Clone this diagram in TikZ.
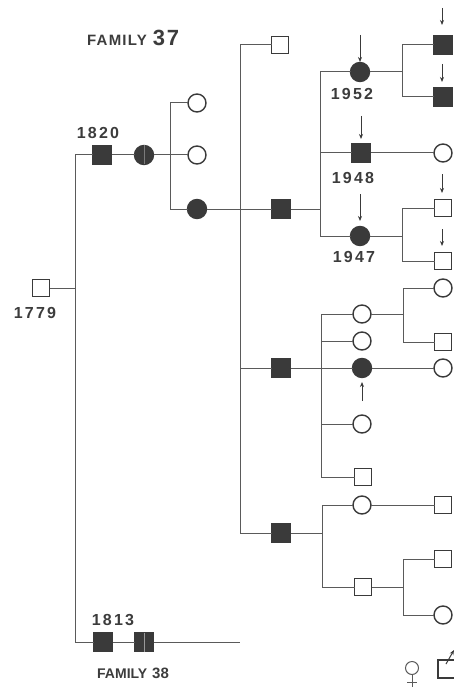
\documentclass[tikz,border=0pt]{standalone}
\usepackage{fontspec}
\setmainfont{Liberation Sans}
\newfontfamily\spacedfont[LetterSpace=14]{Liberation Sans}
\newfontfamily\famfont[LetterSpace=8]{Liberation Sans}
\usetikzlibrary{arrows.meta}
\definecolor{dgray}{HTML}{3A3A3A}
\definecolor{lgray}{HTML}{5A5A5A}
\definecolor{tgray}{HTML}{3C3C3C}
\tikzset{
  conn/.style={draw=lgray, line width=1pt},
  sym/.style={inner sep=0pt, outer sep=0pt, line width=1.4pt, draw=dgray},
  esq/.style={sym, rectangle, minimum size=17pt, fill=white},
  fsq/.style={sym, rectangle, minimum size=19pt, fill=dgray},
  eci/.style={sym, circle, minimum size=18pt, fill=white},
  fci/.style={sym, circle, minimum size=19pt, fill=dgray},
  year/.style={font=\fontsize{16}{16}\spacedfont\bfseries, text=tgray, anchor=base, inner sep=0pt},
  ptr/.style={draw=dgray, line width=1pt, -{Stealth[length=5pt,width=4pt]}},
}
\begin{document}
\begin{tikzpicture}[x=1pt,y=-1pt]
\useasboundingbox (0,0) rectangle (454,687);
% titles
\node[anchor=base west, inner sep=0pt, text=tgray] (fam37) at (87,46)
  {\famfont\bfseries\fontsize{15}{15}\selectfont FAMILY\hspace{6pt}\fontsize{22}{22}\selectfont 37};
\node[anchor=base west, inner sep=0pt, text=tgray] (fam38) at (97,678)
  {\bfseries\fontsize{14}{14}\selectfont FAMILY\hspace{5pt}\fontsize{15}{15}\selectfont 38};
% persons
\node[esq] (p1779) at (41,288) {};
\node[fsq] (p1820) at (102,155) {};
\node[fci] (s1820) at (144,155) {};
\node[eci] (c1) at (197,103) {};
\node[eci] (c2) at (197,155) {};
\node[fci] (c3) at (197,209) {};
\node[esq] (g1) at (280,45) {};
\node[fsq] (g2) at (281,209) {};
\node[fsq] (g3) at (281,368) {};
\node[fsq] (g4) at (281,533) {};
\node[fci] (h1) at (360,72) {};
\node[fsq] (h2) at (361,153) {};
\node[fci] (h3) at (360,236) {};
\node[fsq] (k1) at (443,45) {};
\node[fsq] (k2) at (443,97) {};
\node[eci] (k3) at (443,153) {};
\node[esq] (k4) at (443,208) {};
\node[esq] (k5) at (443,261) {};
\node[eci] (m1) at (362,314) {};
\node[eci] (m2) at (362,341) {};
\node[fci] (m3) at (362,368) {};
\node[eci] (m4) at (362,424) {};
\node[esq] (m5) at (363,477) {};
\node[eci] (n1) at (443,288) {};
\node[esq] (n2) at (443,342) {};
\node[eci] (n3) at (443,368) {};
\node[eci] (q1) at (362,505) {};
\node[esq] (q2) at (363,587) {};
\node[esq] (r1) at (443,505) {};
\node[esq] (r2) at (443,559) {};
\node[eci] (r3) at (443,615) {};
\node[fsq] (p1813) at (103,642) {};
\node[fsq] (s1813) at (144,642) {};
\draw[gray!80, line width=0.9pt] (s1813.north) -- (s1813.south);
\draw[lgray!80, line width=0.6pt] (s1820.north) -- (s1820.south);
% years
\node[year] (y1779) at (35,318) {1779};
\node[year] (y1820) at (98,139) {1820};
\node[year] (y1952) at (352,100) {1952};
\node[year] (y1948) at (353,183) {1948};
\node[year] (y1947) at (354,262) {1947};
\node[year] (y1813) at (113,625) {1813};
% junction coordinates
\coordinate (t1) at (75,155);
\coordinate (t2) at (75,288);
\coordinate (t3) at (75,642);
\coordinate (e1813) at (240,642);
\coordinate (j1a) at (170,103);
\coordinate (j1b) at (170,209);
\coordinate (v2a) at (240,45);
\coordinate (v2m) at (240,368);
\coordinate (v2b) at (240,533);
\coordinate (v3j) at (320,209);
\coordinate (v3a) at (320,72);
\coordinate (v3m) at (320,153);
\coordinate (v3b) at (320,236);
\coordinate (w1j) at (402,72);
\coordinate (w1a) at (402,45);
\coordinate (w1b) at (402,97);
\coordinate (w2j) at (402,236);
\coordinate (w2a) at (402,208);
\coordinate (w2b) at (402,261);
\coordinate (v4j) at (321,368);
\coordinate (v4a) at (321,314);
\coordinate (v4c) at (321,341);
\coordinate (v4d) at (321,424);
\coordinate (v4b) at (321,477);
\coordinate (w3j) at (403,314);
\coordinate (w3a) at (403,288);
\coordinate (w3b) at (403,342);
\coordinate (v5j) at (322,533);
\coordinate (v5a) at (322,505);
\coordinate (v5b) at (322,587);
\coordinate (w4j) at (403,587);
\coordinate (w4a) at (403,559);
\coordinate (w4b) at (403,615);
% connectors
\draw[conn] (t1) -- (t3);
\draw[conn] (p1779) -- (t2);
\draw[conn] (t1) -- (p1820);
\draw[conn] (p1820) -- (s1820);
\draw[conn] (s1820) -- (c2);
\draw[conn] (j1a) -- (j1b);
\draw[conn] (j1a) -- (c1);
\draw[conn] (j1b) -- (c3);
\draw[conn] (c3) -- (g2);
\draw[conn] (v2a) -- (v2b);
\draw[conn] (v2a) -- (g1);
\draw[conn] (v2m) -- (g3);
\draw[conn] (v2b) -- (g4);
\draw[conn] (g2) -- (v3j);
\draw[conn] (v3a) -- (v3b);
\draw[conn] (v3a) -- (h1);
\draw[conn] (v3m) -- (h2);
\draw[conn] (v3b) -- (h3);
\draw[conn] (h1) -- (w1j);
\draw[conn] (w1a) -- (w1b);
\draw[conn] (w1a) -- (k1);
\draw[conn] (w1b) -- (k2);
\draw[conn] (h2) -- (k3);
\draw[conn] (h3) -- (w2j);
\draw[conn] (w2a) -- (w2b);
\draw[conn] (w2a) -- (k4);
\draw[conn] (w2b) -- (k5);
\draw[conn] (g3) -- (m3);
\draw[conn] (v4a) -- (v4b);
\draw[conn] (v4a) -- (m1);
\draw[conn] (v4c) -- (m2);
\draw[conn] (v4d) -- (m4);
\draw[conn] (v4b) -- (m5);
\draw[conn] (m1) -- (w3j);
\draw[conn] (w3a) -- (w3b);
\draw[conn] (w3a) -- (n1);
\draw[conn] (w3b) -- (n2);
\draw[conn] (m3) -- (n3);
\draw[conn] (g4) -- (v5j);
\draw[conn] (v5a) -- (v5b);
\draw[conn] (v5a) -- (q1);
\draw[conn] (v5b) -- (q2);
\draw[conn] (q1) -- (r1);
\draw[conn] (q2) -- (w4j);
\draw[conn] (w4a) -- (w4b);
\draw[conn] (w4a) -- (r2);
\draw[conn] (w4b) -- (r3);
\draw[conn] (t3) -- (p1813);
\draw[conn] (p1813) -- (s1813);
\draw[conn] (s1813) -- (e1813);
% proband arrows
\coordinate (a1s) at (360,35);  \coordinate (a1e) at (360,62);
\coordinate (a2s) at (361,116); \coordinate (a2e) at (361,139);
\coordinate (a3s) at (360,194); \coordinate (a3e) at (360,221);
\coordinate (a4s) at (442,8);   \coordinate (a4e) at (442,25);
\coordinate (a5s) at (442,64);  \coordinate (a5e) at (442,82);
\coordinate (a6s) at (442,174); \coordinate (a6e) at (442,193);
\coordinate (a7s) at (442,229); \coordinate (a7e) at (442,246);
\coordinate (a8s) at (362,401); \coordinate (a8e) at (362,382);
\foreach \i in {1,...,8} \draw[ptr] (a\i s) -- (a\i e);
% legend symbols (bottom right)
\node[sym, circle, minimum size=13pt, line width=1pt, draw=lgray] (fem) at (412,668) {};
\coordinate (femb) at (412,687);
\coordinate (fbl) at (407,682); \coordinate (fbr) at (417,682);
\draw[draw=lgray, line width=1pt] (fem) -- (femb);
\draw[draw=lgray, line width=1pt] (fbl) -- (fbr);
\node[esq, minimum size=18pt, line width=1.2pt] (lsq) at (447,669) {};
\coordinate (las) at (446,664); \coordinate (lae) at (454,650);
\draw[ptr] (las) -- (lae);
\end{tikzpicture}
\end{document}
